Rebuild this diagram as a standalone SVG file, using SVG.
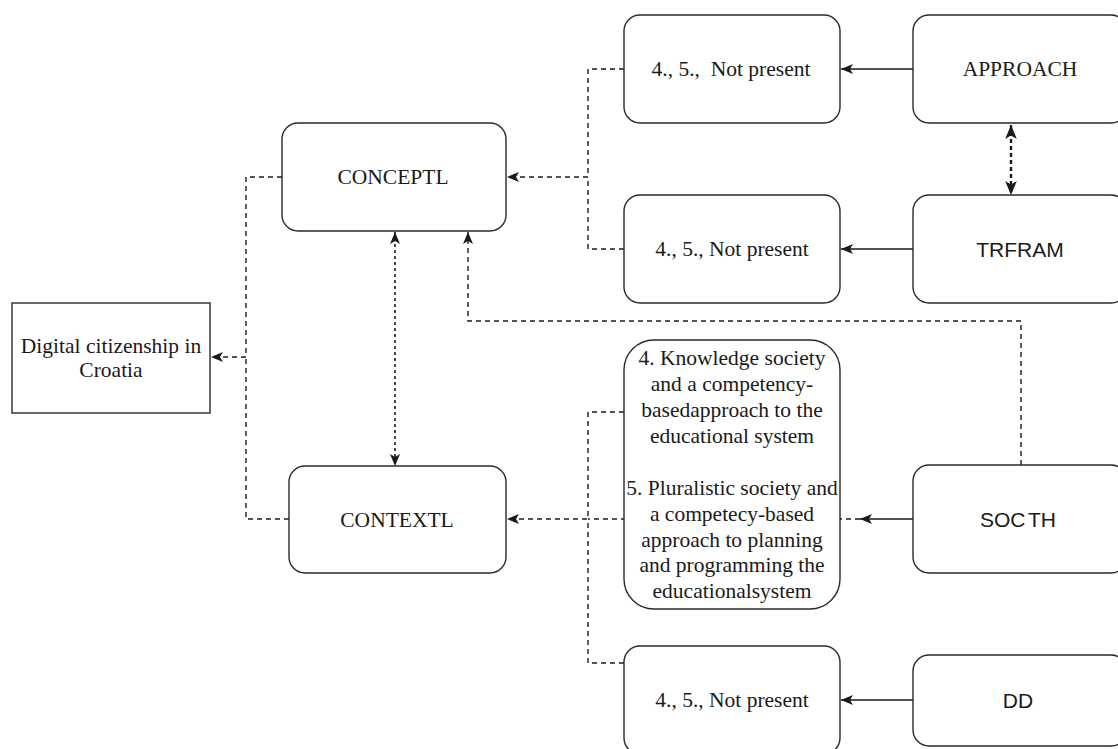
<svg xmlns="http://www.w3.org/2000/svg" width="1118" height="749" viewBox="0 0 1118 749">
<style>
.box{fill:#fff;stroke:#2a2a2a;stroke-width:1.4}
.serif{font-family:"Liberation Serif","Times New Roman",serif;font-size:21.5px;fill:#1a1a1a;text-anchor:middle}
.sans{font-family:"Liberation Sans",Arial,sans-serif;font-size:21px;fill:#1a1a1a;text-anchor:middle}
.solid{fill:none;stroke:#1a1a1a;stroke-width:1.4}
.dash{fill:none;stroke:#1a1a1a;stroke-width:1.4;stroke-dasharray:5 4}
.dot{fill:none;stroke:#1a1a1a;stroke-width:1.6;stroke-dasharray:3 3}
.bold{fill:none;stroke:#1a1a1a;stroke-width:2.4;stroke-dasharray:4 3}
</style>
<defs>
<marker id="arr" viewBox="0 0 12 10" refX="12" refY="5" markerWidth="12" markerHeight="10" markerUnits="userSpaceOnUse" orient="auto-start-reverse">
<path d="M0,0 L12,5 L0,10 L3,5 z" fill="#1a1a1a"/>
</marker>
<marker id="arrB" viewBox="0 0 12 10" refX="12" refY="5" markerWidth="14" markerHeight="13" markerUnits="userSpaceOnUse" orient="auto-start-reverse">
<path d="M0,0 L12,5 L0,10 L3,5 z" fill="#1a1a1a"/>
</marker>
</defs>
<g id="connectors">
<path class="dash" d="M282,177 H246 V357 H211" marker-end="url(#arr)"/>
<path class="dash" d="M289,519 H246 V357"/>
<path class="dash" d="M624,69 H588 V177 H507" marker-end="url(#arr)"/>
<path class="dash" d="M624,249 H588 V177"/>
<path class="dash" d="M624,412 H588 V519 H507" marker-end="url(#arr)"/>
<path class="dash" d="M624,663 H588 V519"/>
<path class="dash" d="M860,519 H588"/>
<path class="solid" d="M913,519 H860" marker-end="url(#arr)"/>
<path class="solid" d="M913,69 H841" marker-end="url(#arr)"/>
<path class="solid" d="M913,249 H841" marker-end="url(#arr)"/>
<path class="solid" d="M913,700 H841" marker-end="url(#arr)"/>
<path class="dash" d="M1021,465 V321 H468 V232" marker-end="url(#arr)"/>
<path class="dot" d="M395,232 V466" marker-start="url(#arr)" marker-end="url(#arr)"/>
<path class="bold" d="M1011,125 V195" marker-start="url(#arrB)" marker-end="url(#arrB)"/>
</g>
<g id="digital">
<rect class="box" x="12" y="303" width="198" height="110"/>
<text class="serif" x="111" y="353">Digital citizenship in</text>
<text class="serif" x="111" y="377">Croatia</text>
</g>
<g id="conceptl">
<rect class="box" x="282" y="123" width="224" height="108" rx="16"/>
<text class="serif" x="393" y="184">CONCEPTL</text>
</g>
<g id="contextl">
<rect class="box" x="289" y="466" width="217" height="107" rx="16"/>
<text class="serif" x="397" y="527">CONTEXTL</text>
</g>
<g id="np1">
<rect class="box" x="624" y="15" width="216" height="108" rx="16"/>
<text class="serif" x="731" y="76" xml:space="preserve">4., 5.,  Not present</text>
</g>
<g id="np2">
<rect class="box" x="624" y="195" width="216" height="108" rx="16"/>
<text class="serif" x="732" y="256">4., 5., Not present</text>
</g>
<g id="society">
<rect class="box" x="624" y="340" width="216" height="269" rx="30"/>
<text class="serif" x="732" y="365">4. Knowledge society</text>
<text class="serif" x="732" y="391">and a competency-</text>
<text class="serif" x="732" y="417">basedapproach to the</text>
<text class="serif" x="732" y="443">educational system</text>
<text class="serif" x="732" y="495">5. Pluralistic society and</text>
<text class="serif" x="732" y="521">a competecy-based</text>
<text class="serif" x="732" y="547">approach to planning</text>
<text class="serif" x="732" y="572">and programming the</text>
<text class="serif" x="732" y="598">educationalsystem</text>
</g>
<g id="np3">
<rect class="box" x="624" y="646" width="216" height="108" rx="16"/>
<text class="serif" x="732" y="707">4., 5., Not present</text>
</g>
<g id="approach">
<rect class="box" x="913" y="15" width="214" height="108" rx="16"/>
<text class="serif" x="1020" y="76">APPROACH</text>
</g>
<g id="trfram">
<rect class="box" x="913" y="195" width="214" height="108" rx="16"/>
<text class="sans" x="1020" y="257">TRFRAM</text>
</g>
<g id="socth">
<rect class="box" x="913" y="465" width="214" height="108" rx="16"/>
<text class="sans" x="1018" y="527" word-spacing="-3">SOC TH</text>
</g>
<g id="dd">
<rect class="box" x="913" y="655" width="214" height="91" rx="16"/>
<text class="sans" x="1018" y="708">DD</text>
</g>
</svg>
